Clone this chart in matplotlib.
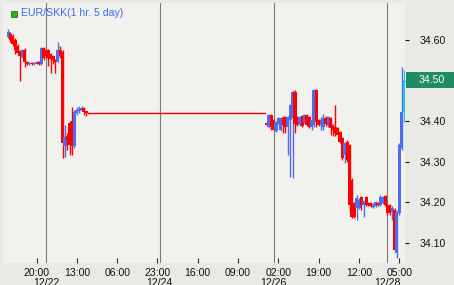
import numpy as np
import matplotlib
matplotlib.use("Agg")
import matplotlib.pyplot as plt
from matplotlib.patches import Rectangle
from matplotlib import transforms

# hours counted from 12/22 00:00
seg1_start = -16
seg1_open = [34.607, 34.615, 34.610, 34.600, 34.585, 34.572, 34.557, 34.575, 34.545, 34.541,
             34.543, 34.541, 34.542, 34.545, 34.541, 34.580, 34.575, 34.575, 34.565, 34.560,
             34.551, 34.546, 34.575, 34.570, 34.340, 34.364, 34.396, 34.400, 34.339, 34.420,
             34.425, 34.428, 34.433, 34.425]
seg1_high = [34.627, 34.620, 34.615, 34.605, 34.590, 34.575, 34.578, 34.580, 34.547, 34.545,
             34.545, 34.546, 34.547, 34.547, 34.583, 34.582, 34.578, 34.578, 34.568, 34.562,
             34.553, 34.595, 34.585, 34.575, 34.390, 34.370, 34.400, 34.435, 34.428, 34.435,
             34.437, 34.437, 34.435, 34.425]
seg1_low = [34.605, 34.595, 34.585, 34.565, 34.565, 34.500, 34.555, 34.533, 34.539, 34.539,
            34.539, 34.539, 34.540, 34.539, 34.539, 34.550, 34.555, 34.535, 34.519, 34.540,
            34.519, 34.545, 34.555, 34.309, 34.312, 34.330, 34.317, 34.317, 34.335, 34.415,
            34.420, 34.425, 34.415, 34.413]
seg1_close = [34.620, 34.600, 34.590, 34.575, 34.567, 34.560, 34.575, 34.545, 34.541, 34.543,
              34.541, 34.544, 34.545, 34.541, 34.580, 34.555, 34.560, 34.555, 34.553, 34.550,
              34.546, 34.575, 34.560, 34.346, 34.360, 34.354, 34.341, 34.339, 34.423, 34.428,
              34.430, 34.432, 34.423, 34.420]

seg2_start = 93
seg2_open = [34.396, 34.386, 34.415, 34.403, 34.376, 34.396, 34.378, 34.408, 34.410, 34.386,
             34.403, 34.408, 34.472, 34.410, 34.391, 34.413, 34.398, 34.415, 34.410, 34.386,
             34.391, 34.477, 34.403, 34.391, 34.386, 34.408, 34.391, 34.408, 34.391, 34.386,
             34.383, 34.373, 34.359, 34.317, 34.349, 34.341, 34.255, 34.199, 34.186, 34.186,
             34.213, 34.194, 34.213, 34.199, 34.199, 34.189, 34.191, 34.199, 34.194, 34.199,
             34.216, 34.194, 34.194, 34.176, 34.181, 34.075, 34.174, 34.334, 34.423]
seg2_high = [34.398, 34.418, 34.418, 34.405, 34.400, 34.410, 34.410, 34.413, 34.413, 34.413,
             34.442, 34.477, 34.477, 34.413, 34.413, 34.415, 34.418, 34.418, 34.413, 34.406,
             34.479, 34.479, 34.406, 34.410, 34.418, 34.413, 34.413, 34.410, 34.393, 34.440,
             34.386, 34.376, 34.362, 34.349, 34.354, 34.344, 34.260, 34.200, 34.218, 34.210,
             34.216, 34.206, 34.216, 34.201, 34.201, 34.199, 34.203, 34.201, 34.218, 34.216,
             34.218, 34.196, 34.196, 34.190, 34.186, 34.180, 34.345, 34.534, 34.526]
seg2_low = [34.389, 34.383, 34.378, 34.375, 34.373, 34.393, 34.376, 34.371, 34.370, 34.317,
            34.263, 34.260, 34.371, 34.388, 34.388, 34.385, 34.395, 34.388, 34.383, 34.378,
            34.386, 34.386, 34.388, 34.378, 34.378, 34.388, 34.386, 34.366, 34.364, 34.364,
            34.360, 34.345, 34.304, 34.297, 34.300, 34.174, 34.162, 34.162, 34.157, 34.183,
            34.181, 34.164, 34.191, 34.190, 34.189, 34.186, 34.189, 34.191, 34.191, 34.196,
            34.191, 34.169, 34.169, 34.157, 34.078, 34.063, 34.169, 34.329, 34.398]
seg2_close = [34.391, 34.415, 34.386, 34.378, 34.398, 34.408, 34.408, 34.391, 34.386, 34.410,
              34.440, 34.472, 34.393, 34.391, 34.410, 34.388, 34.415, 34.391, 34.386, 34.403,
              34.477, 34.398, 34.391, 34.403, 34.408, 34.393, 34.410, 34.383, 34.378, 34.371,
              34.366, 34.349, 34.309, 34.346, 34.304, 34.194, 34.164, 34.164, 34.211, 34.206,
              34.194, 34.203, 34.194, 34.194, 34.191, 34.196, 34.201, 34.194, 34.213, 34.213,
              34.194, 34.174, 34.174, 34.186, 34.083, 34.176, 34.341, 34.423, 34.501]

tick_hours = [-4, 13, 30, 47, 64, 81, 98, 115, 132, 149]
tick_labels = ["20:00", "13:00", "06:00", "23:00", "16:00", "09:00", "02:00", "19:00", "12:00", "05:00"]
day_hours = [0, 48, 96, 144]
day_labels = ["12/22", "12/24", "12/26", "12/28"]
price_ticks = [34.10, 34.20, 34.30, 34.40, 34.50, 34.60]
title = "EUR/SKK(1 hr. 5 day)"

RED = "#ff0000"
BLUE = "#4d6cf0"
CYAN = "#22c8dc"

plt.rcParams['font.family'] = ['Liberation Sans', 'DejaVu Sans']

W, H = 454, 285
fig = plt.figure(figsize=(W / 100, H / 100), dpi=100)
fig.patch.set_facecolor("#e9e9e6")
ax = fig.add_axes([3 / W, 1 - 263 / H, 402 / W, 260 / H])
ax.set_facecolor("#f1f2ee")
for s in ax.spines.values():
    s.set_visible(False)

ax.set_xlim(-18.14, 151.4)
ax.set_ylim(34.0507, 34.691)

for h in day_hours:
    ax.axvline(h, color="#7a7a7a", lw=0.8, zorder=1)


def draw_candles(start, o, hi, lo, c, last=False):
    hours = np.arange(start, start + len(o))
    for i, x in enumerate(hours):
        col = BLUE if c[i] >= o[i] else RED
        if last and i == len(o) - 1:
            col = CYAN
        ax.vlines(x, lo[i], hi[i], color=col, lw=1.0, zorder=3)
        body = max(abs(c[i] - o[i]), 0.003)
        ax.bar(x, body, bottom=min(o[i], c[i]), width=1.3, color=col, lw=0, zorder=3)


draw_candles(seg1_start, seg1_open, seg1_high, seg1_low, seg1_close)
draw_candles(seg2_start, seg2_open, seg2_high, seg2_low, seg2_close, last=True)

# holiday gap filled with the last close
gap_x = [seg1_start + len(seg1_close) - 0.5, seg2_start - 0.5]
ax.plot(gap_x, [seg1_close[-1], seg1_close[-1]], color=RED, lw=1.0, zorder=2)

ax.set_xticks(tick_hours)
ax.set_xticklabels(tick_labels)
ax.tick_params(axis="x", direction="in", length=3.6, width=0.8, color="#333333",
               pad=3.6, labelsize=7.6, labelcolor="#111111")

ax.yaxis.tick_right()
ax.set_yticks(price_ticks)
ax.set_yticklabels(["%.2f" % p for p in price_ticks])
ax.tick_params(axis="y", direction="out", length=3, width=0.8, color="#111111",
               pad=7.5, labelsize=7.6, labelcolor="#111111")

tr = transforms.blended_transform_factory(ax.transData, fig.transFigure)
for h, lab in zip(day_hours, day_labels):
    ax.text(h, 1 - 278 / H, lab, transform=tr, ha="center", va="top",
            fontsize=7.6, color="#111111", clip_on=False)

# last price box
last = seg2_close[-1]
tr2 = transforms.blended_transform_factory(fig.transFigure, ax.transData)
fig.add_artist(Rectangle((406 / W, last - 0.0197), 48 / W, 0.0394, transform=tr2,
                         facecolor="#1f8c66", edgecolor="none", zorder=5))
fig.text(419 / W, last, "%.2f" % last, transform=tr2, color="white", fontsize=7.6,
         ha="left", va="center", zorder=6)

# title with green marker
fig.add_artist(Rectangle((11 / W, 1 - 16.5 / H), 6 / W, 6 / H, transform=fig.transFigure,
                         facecolor="#22b422", edgecolor="#116611", lw=0.5))
fig.text(21 / W, 1 - 13 / H, title, color="#3a6cf4", fontsize=7.6, ha="left", va="center")

fig.savefig("out.png", dpi=100)
